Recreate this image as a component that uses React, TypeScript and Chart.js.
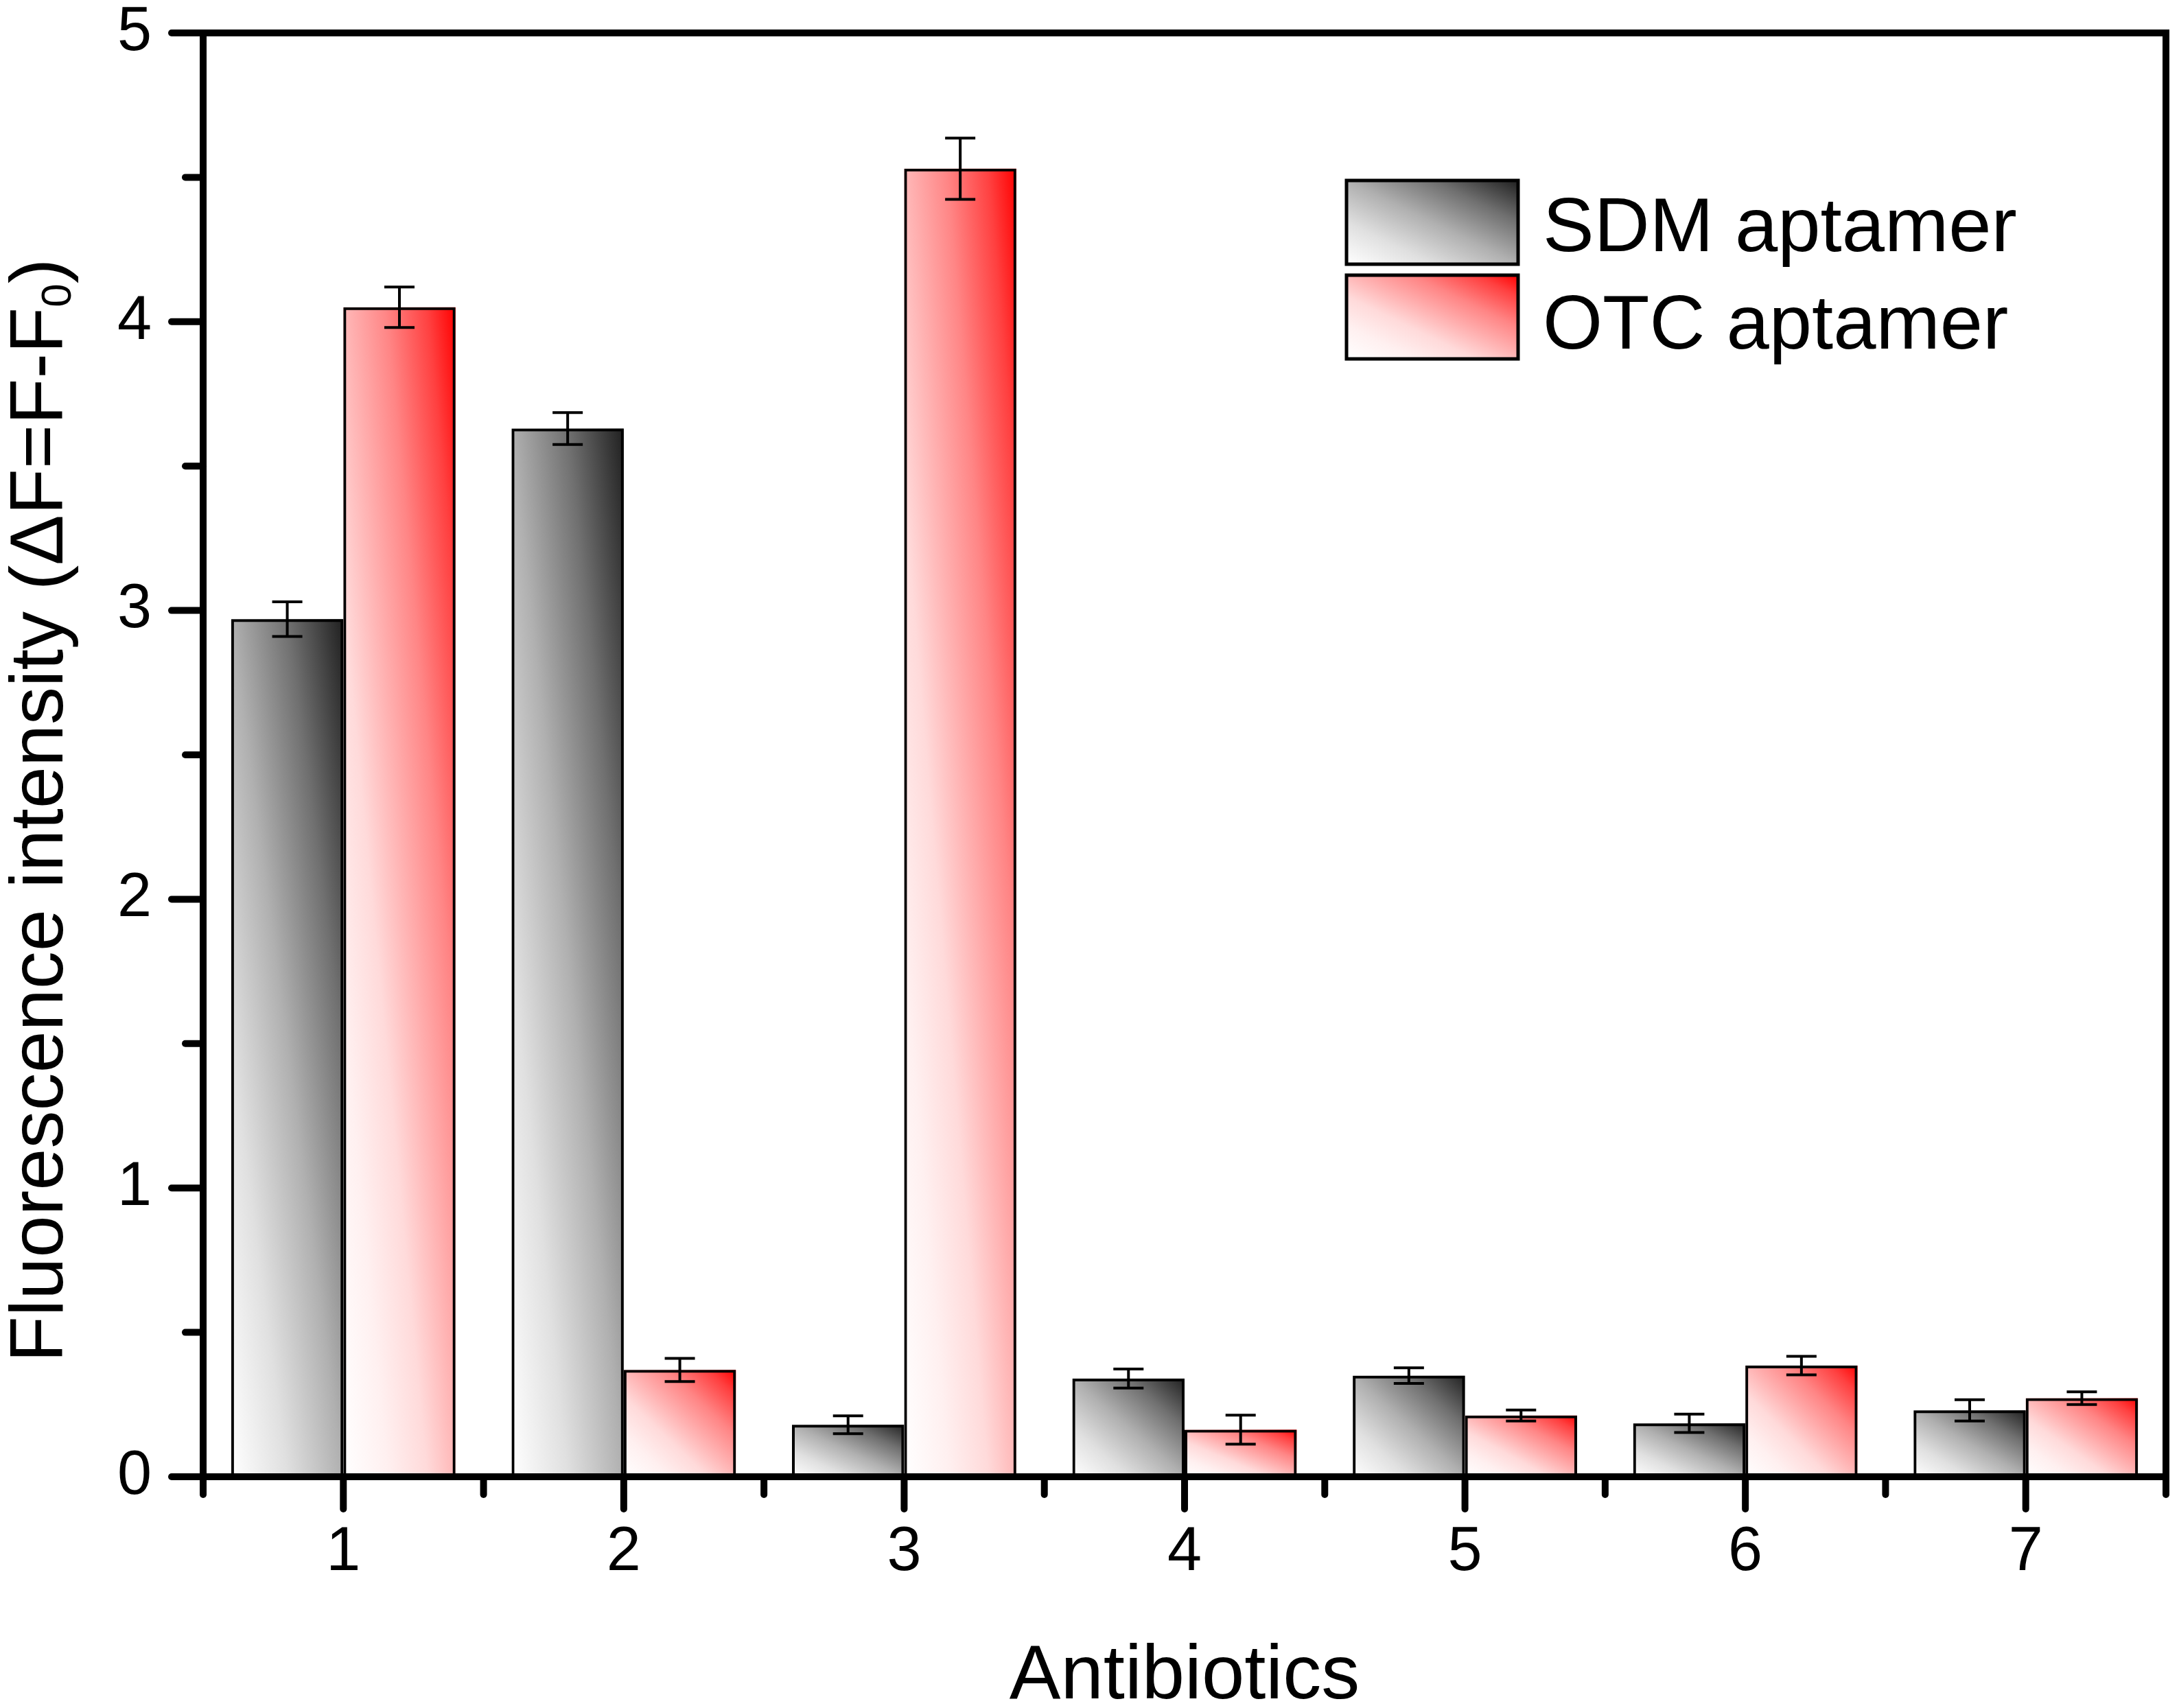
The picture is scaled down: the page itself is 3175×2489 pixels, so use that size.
import { useEffect, useRef } from 'react';
import { Chart, registerables } from 'chart.js';

Chart.register(...registerables);

// data
const antibiotics = ['1', '2', '3', '4', '5', '6', '7'];
const sdmValues = [2.97, 3.63, 0.18, 0.34, 0.35, 0.185, 0.23];
const sdmErrors = [0.06, 0.055, 0.031, 0.033, 0.027, 0.032, 0.037];
const otcValues = [4.05, 0.37, 4.53, 0.163, 0.212, 0.385, 0.272];
const otcErrors = [0.07, 0.04, 0.106, 0.05, 0.019, 0.032, 0.022];
const seriesNames = ['SDM aptamer', 'OTC aptamer'];
const yTicks = [0, 0.5, 1, 1.5, 2, 2.5, 3, 3.5, 4, 4.5, 5];

const FONT = '"Liberation Sans", Arial, sans-serif';
const W = 3175;
const H = 2489;

const grayStops: [number, string][] = [
  [0, '#ffffff'],
  [0.25, '#e0e0e0'],
  [0.5, '#b0b0b0'],
  [0.75, '#707070'],
  [1, '#202020'],
];
const redStops: [number, string][] = [
  [0, '#ffffff'],
  [0.2, '#fff0f0'],
  [0.375, '#ffdada'],
  [0.5, '#ffb8b8'],
  [0.69, '#ff8585'],
  [0.875, '#ff4040'],
  [1, '#ff0000'],
];
const stopsFor = [grayStops, redStops];
const errorsFor = [sdmErrors, otcErrors];

// bottom-left white -> top-right full colour, in the box's own unit square
function diagGradient(ctx: CanvasRenderingContext2D, l: number, t: number, r: number, b: number, stops: [number, string][]) {
  const w = Math.max(r - l, 1);
  const h = Math.max(b - t, 1);
  const gx = 1 / (2 * w);
  const gy = -1 / (2 * h);
  const g2 = gx * gx + gy * gy;
  const grad = ctx.createLinearGradient(l, b, l + gx / g2, b + gy / g2);
  stops.forEach(([o, c]) => grad.addColorStop(o, c));
  return grad;
}

const decorations = {
  id: 'decorations',
  beforeDatasetsDraw(chart: any) {
    const ctx = chart.ctx as CanvasRenderingContext2D;
    ctx.save();
    chart.data.datasets.forEach((_: any, i: number) => {
      const meta = chart.getDatasetMeta(i);
      meta.data.forEach((el: any) => {
        const { x, y, base, width } = el.getProps(['x', 'y', 'base', 'width'], true);
        const l = x - width / 2;
        const r = x + width / 2;
        const t = Math.min(y, base);
        const b = Math.max(y, base);
        ctx.fillStyle = diagGradient(ctx, l, t, r, b, stopsFor[i]);
        ctx.fillRect(l, t, r - l, b - t);
      });
    });
    ctx.restore();
  },
  afterDatasetsDraw(chart: any) {
    const ctx = chart.ctx as CanvasRenderingContext2D;
    const ys = chart.scales.y;
    ctx.save();
    ctx.strokeStyle = '#000';
    ctx.lineWidth = 4;
    chart.data.datasets.forEach((ds: any, i: number) => {
      const meta = chart.getDatasetMeta(i);
      meta.data.forEach((el: any, j: number) => {
        const v = ds.data[j];
        const e = errorsFor[i][j];
        const x = el.x;
        const yt = ys.getPixelForValue(v + e);
        const yb = ys.getPixelForValue(v - e);
        ctx.beginPath();
        ctx.moveTo(x, yt);
        ctx.lineTo(x, yb);
        ctx.moveTo(x - 22, yt);
        ctx.lineTo(x + 22, yt);
        ctx.moveTo(x - 22, yb);
        ctx.lineTo(x + 22, yb);
        ctx.stroke();
      });
    });
    ctx.restore();
  },
  afterDraw(chart: any) {
    const ctx = chart.ctx as CanvasRenderingContext2D;
    const { left, right, top, bottom } = chart.chartArea;
    const xs = chart.scales.x;
    const ys = chart.scales.y;
    ctx.save();
    ctx.strokeStyle = '#000';
    ctx.fillStyle = '#000';

    // tick marks: long at labelled positions, short in between
    ctx.lineWidth = 10;
    ctx.lineCap = 'round';
    yTicks.forEach((v) => {
      const py = ys.getPixelForValue(v);
      const len = Number.isInteger(v) ? 46 : 26;
      ctx.beginPath();
      ctx.moveTo(left, py);
      ctx.lineTo(left - len, py);
      ctx.stroke();
    });
    for (let i = 0; i < antibiotics.length; i++) {
      const px = xs.getPixelForValue(i);
      ctx.beginPath();
      ctx.moveTo(px, bottom);
      ctx.lineTo(px, bottom + 47);
      ctx.stroke();
    }
    for (let i = 0; i <= antibiotics.length; i++) {
      const px = xs.getPixelForValue(i - 0.5);
      ctx.beginPath();
      ctx.moveTo(px, bottom);
      ctx.lineTo(px, bottom + 26);
      ctx.stroke();
    }

    // frame
    ctx.lineCap = 'butt';
    ctx.lineJoin = 'miter';
    ctx.strokeRect(left, top, right - left, bottom - top);

    // legend
    const boxL = 1962;
    const boxW = 250;
    const boxTops = [263, 401];
    const boxH = 122;
    const baselines = [366, 508];
    ctx.font = `112px ${FONT}`;
    ctx.textAlign = 'left';
    ctx.textBaseline = 'alphabetic';
    seriesNames.forEach((name, i) => {
      const bt = boxTops[i];
      ctx.fillStyle = diagGradient(ctx, boxL, bt, boxL + boxW, bt + boxH, stopsFor[i]);
      ctx.fillRect(boxL, bt, boxW, boxH);
      ctx.lineWidth = 5;
      ctx.strokeRect(boxL, bt, boxW, boxH);
      ctx.fillStyle = '#000';
      ctx.fillText(name, 2248, baselines[i]);
    });

    // x title
    ctx.font = `112px ${FONT}`;
    ctx.textAlign = 'center';
    ctx.fillText('Antibiotics', (left + right) / 2, 2475);

    // y title with subscript
    const main = 'Fluorescence intensity (\u0394F=F-F';
    const sub = '0';
    const close = ')';
    ctx.font = `110px ${FONT}`;
    const wMain = ctx.measureText(main).width;
    const wClose = ctx.measureText(close).width;
    ctx.font = `62px ${FONT}`;
    const wSub = ctx.measureText(sub).width;
    const total = wMain + wSub + wClose;
    const cy = 1181;
    ctx.translate(91, cy + total / 2);
    ctx.rotate(-Math.PI / 2);
    ctx.textAlign = 'left';
    ctx.font = `110px ${FONT}`;
    ctx.fillText(main, 0, 0);
    ctx.font = `62px ${FONT}`;
    ctx.fillText(sub, wMain, 12);
    ctx.font = `110px ${FONT}`;
    ctx.fillText(close, wMain + wSub, 0);
    ctx.restore();
  },
};

export default function App() {
  const chartRef = useRef<HTMLCanvasElement>(null);

  useEffect(() => {
    document.body.style.margin = '0';
    if (!chartRef.current) return;
    const ctx = chartRef.current.getContext('2d');
    if (!ctx) return;

    const chart = new Chart(ctx, {
      type: 'bar',
      data: {
        labels: antibiotics,
        datasets: [
          {
            label: seriesNames[0],
            data: sdmValues,
            backgroundColor: 'rgba(0,0,0,0)',
            borderColor: '#000',
            borderWidth: 4,
            categoryPercentage: 0.8,
            barPercentage: 1.0,
          },
          {
            label: seriesNames[1],
            data: otcValues,
            backgroundColor: 'rgba(0,0,0,0)',
            borderColor: '#000',
            borderWidth: 4,
            categoryPercentage: 0.8,
            barPercentage: 1.0,
          },
        ],
      },
      options: {
        responsive: false,
        animation: false,
        devicePixelRatio: 1,
        layout: { padding: { top: 48, right: 19, left: 0, bottom: 0 } },
        plugins: {
          legend: { display: false },
          tooltip: { enabled: false },
        },
        scales: {
          x: {
            grid: { display: false, drawTicks: false },
            border: { display: false },
            ticks: {
              color: '#000',
              font: { family: FONT, size: 90 },
              padding: 57,
            },
            afterFit(scale: any) {
              scale.height = 337;
              scale.paddingLeft = 0;
              scale.paddingRight = 0;
            },
          },
          y: {
            min: 0,
            max: 5,
            grid: { display: false, drawTicks: false },
            border: { display: false },
            ticks: {
              stepSize: 0.5,
              color: '#000',
              font: { family: FONT, size: 90 },
              padding: 75,
              callback: (v: any) => (Number.isInteger(Number(v)) ? String(v) : ''),
            },
            afterFit(scale: any) {
              scale.width = 296;
              scale.paddingTop = 0;
              scale.paddingBottom = 0;
            },
          },
        },
      },
      plugins: [decorations],
    });

    return () => chart.destroy();
  }, []);

  return (
    <div style={{ width: W, height: H }}>
      <canvas ref={chartRef} width={W} height={H} style={{ display: 'block' }} />
    </div>
  );
}
